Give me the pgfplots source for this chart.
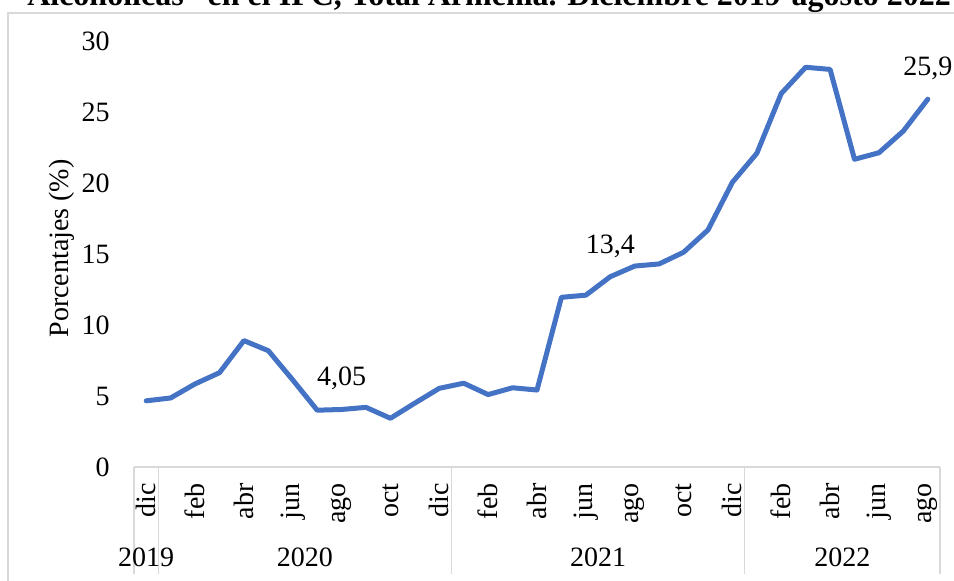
\documentclass[border=0pt]{standalone}
\usepackage{fontspec}
\setmainfont{Liberation Serif}
\usepackage{pgfplots}
\pgfplotsset{compat=1.18}
\usepackage{pgfplotstable}
\definecolor{exblue}{RGB}{68,114,196}
\definecolor{exgray}{RGB}{217,217,217}
\pgfplotstableread{
x y
0 4.66
1 4.86
2 5.85
3 6.64
4 8.90
5 8.19
6 6.13
7 4.00
8 4.05
9 4.20
10 3.43
11 4.50
12 5.54
13 5.90
14 5.10
15 5.58
16 5.42
17 11.95
18 12.10
19 13.40
20 14.15
21 14.30
22 15.12
23 16.69
24 20.05
25 22.09
26 26.30
27 28.15
28 28.00
29 21.67
30 22.13
31 23.66
32 25.90
}\serie
\pgfplotstableread{
x y label
8 4.05 {4,05}
19 13.4 {13,4}
32 25.9 {25,9}
}\etiquetas
\newcommand\bodyfont{\fontsize{14pt}{16pt}\selectfont}
\begin{document}
\begin{tikzpicture}
\path[use as bounding box] (0pt,0pt) rectangle (477pt,-290.5pt);
\draw[exgray, line width=0.75pt] (4pt,-300pt) -- (4pt,-6.5pt) -- (490pt,-6.5pt);
\node[anchor=base, inner sep=0pt, font=\fontsize{16pt}{19pt}\selectfont\bfseries] at (244.5pt,-3pt)
  {Alcohólicas" en el IPC, Total Armenia. Diciembre 2019-agosto 2022};
\begin{axis}[
  at={(67pt,-233.5pt)}, anchor=south west,
  scale only axis, width=403pt, height=213pt,
  xmin=-0.5, xmax=32.5, ymin=0, ymax=30,
  clip=false,
  axis x line*=bottom, axis y line*=left,
  x axis line style={draw=exgray, line width=0.75pt, -},
  y axis line style={draw=none, -},
  major tick length=0pt,
  xtick={0,2,...,32},
  xticklabels={dic,feb,abr,jun,ago,oct,dic,feb,abr,jun,ago,oct,dic,feb,abr,jun,ago},
  ytick={0,5,...,30},
  /pgf/number format/assume math mode=true,
  tick label style={font=\bodyfont},
  xticklabel style={rotate=90, anchor=east, inner sep=0pt},
  xticklabel shift=8pt,
  yticklabel style={anchor=east, inner sep=0pt},
  yticklabel shift=12pt,
  ylabel={Porcentajes (\%)},
  ylabel style={font=\bodyfont, at={([xshift=-36pt]axis description cs:0,0.513)}, rotate=0, anchor=center},
]
\addplot[exblue, line width=2.5pt, line join=round, line cap=round, mark=none] table[x=x,y=y] {\serie};
\addplot[draw=none, mark=none, nodes near coords, point meta=explicit symbolic,
  every node near coord/.append style={anchor=base, yshift=11.75pt, inner sep=0pt, font=\bodyfont, text=black}]
  table[x=x,y=y,meta=label] {\etiquetas};
\draw[exgray, line width=0.75pt] (axis cs:-0.5,0) -- ([yshift=-53.5pt]axis cs:-0.5,0);
\draw[exgray, line width=0.75pt] (axis cs:0.5,0) -- ([yshift=-53.5pt]axis cs:0.5,0);
\draw[exgray, line width=0.75pt] (axis cs:12.5,0) -- ([yshift=-53.5pt]axis cs:12.5,0);
\draw[exgray, line width=0.75pt] (axis cs:24.5,0) -- ([yshift=-53.5pt]axis cs:24.5,0);
\draw[exgray, line width=0.75pt] (axis cs:32.5,0) -- ([yshift=-53.5pt]axis cs:32.5,0);
\node[font=\bodyfont, inner sep=0pt] at ([yshift=-45pt]axis cs:0,0) {2019};
\node[font=\bodyfont, inner sep=0pt] at ([yshift=-45pt]axis cs:6.5,0) {2020};
\node[font=\bodyfont, inner sep=0pt] at ([yshift=-45pt]axis cs:18.5,0) {2021};
\node[font=\bodyfont, inner sep=0pt] at ([yshift=-45pt]axis cs:28.5,0) {2022};
\end{axis}
\end{tikzpicture}
\end{document}
